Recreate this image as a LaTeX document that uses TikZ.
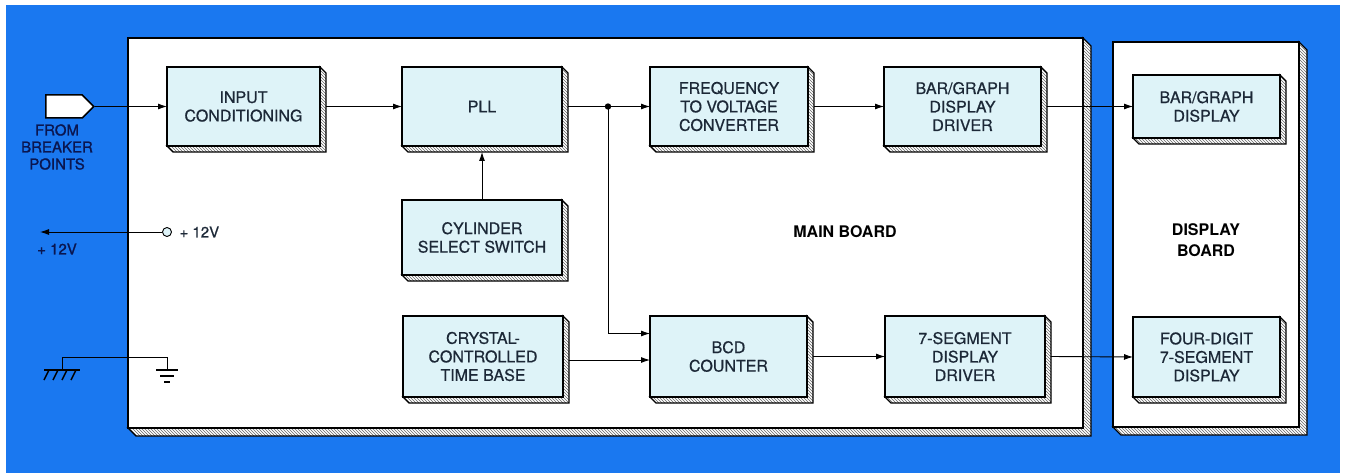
\documentclass[tikz,border=0pt]{standalone}
\usepackage{fontspec}
\setmainfont{TeX Gyre Heros}
\newfontfamily\boxfont[FakeBold=0.6]{TeX Gyre Heros}
\newfontfamily\bluefont[FakeBold=1.2]{TeX Gyre Heros}
\usetikzlibrary{arrows.meta,patterns,shapes.symbols,calc}
\definecolor{bgblue}{RGB}{26,120,240}
\definecolor{boxfill}{RGB}{222,243,248}
\definecolor{boxtext}{RGB}{28,40,55}
\definecolor{navy}{RGB}{10,22,80}
\tikzset{
 board/.style={draw=black, line width=2pt, fill=white, inner sep=0pt, outer sep=0pt},
 extr/.style={draw=black, line width=1.2pt, preaction={fill=white}, pattern=north west lines, pattern color=black!60},
 block/.style={draw=black, line width=2pt, fill=boxfill, inner sep=0pt, outer sep=0pt, align=center, text=boxtext, font=\boxfont\fontsize{16}{18.5}\selectfont},
 arr/.style={line width=0.9pt, -{Latex[length=9pt,width=6pt]}},
 wire/.style={line width=0.9pt},
 bold lbl/.style={font=\fontsize{16}{21}\selectfont\bfseries, align=center, text=black},
 blue lbl/.style={font=\bluefont\fontsize{15}{17}\selectfont, align=center, text=navy},
 plain lbl/.style={font=\boxfont\fontsize{15}{17}\selectfont, text=boxtext},
}
\newcommand{\slab}[5]{%
  \filldraw[extr] (#3,#2) -- (#3+#5,#2+#5) -- (#3+#5,#4+#5) -- (#1+#5,#4+#5) -- (#1,#4) -- (#3,#4) -- cycle;}
\newcommand{\blk}[6]{%
  \slab{#2}{#3}{#4}{#5}{6}
  \node[block, minimum width={#4-#2}, minimum height={#5-#3}] (#1) at ({(#2+#4)/2},{(#3+#5)/2}) {#6};}
\begin{document}
\begin{tikzpicture}[x=1pt,y=-1pt]
\useasboundingbox (0,0) rectangle (1345,476);
\fill[white] (0,0) rectangle (1345,476);
\fill[bgblue] (6,5) rectangle (1340,473);

% boards
\slab{128}{38}{1083}{428}{8}
\node[board, minimum width=955, minimum height=390] (main) at (605.5,233) {};
\slab{1113}{42}{1299}{427}{8}
\node[board, minimum width=186, minimum height=385] (disp) at (1206,234.5) {};
\node[bold lbl] (mainlbl) at (845,232) {MAIN BOARD};
\node[bold lbl] (displbl) at (1206,240) {DISPLAY\\BOARD};

% blocks
\blk{ic}{167}{67}{320}{146}{INPUT\\CONDITIONING}
\blk{pll}{402}{67}{562}{146}{PLL}
\blk{freq}{650}{67}{808}{146}{FREQUENCY\\TO VOLTAGE\\CONVERTER}
\blk{bdrv}{884}{67}{1041}{146}{BAR/GRAPH\\DISPLAY\\DRIVER}
\blk{cyl}{402}{200}{562}{275}{CYLINDER\\SELECT SWITCH}
\blk{xtal}{403}{316}{563}{397}{CRYSTAL-\\CONTROLLED\\TIME BASE}
\blk{bcd}{650}{316}{807}{397}{BCD\\COUNTER}
\blk{sdrv}{885}{316}{1045}{397}{7-SEGMENT\\DISPLAY\\DRIVER}
\blk{bdisp}{1133}{75}{1280}{138}{BAR/GRAPH\\DISPLAY}
\blk{fdisp}{1133}{317}{1280}{397}{FOUR-DIGIT\\7-SEGMENT\\DISPLAY}

% input connector
\node[signal, signal to=east, draw=black, line width=1.5pt, fill=white, minimum width=48pt, minimum height=23pt, inner sep=0pt] (inp) at (64,106.5) {};
\node[blue lbl] (inplbl) at (57,147) {FROM\\BREAKER\\POINTS};

% signal connectors
\draw[arr] (inp.east) -- (ic.west);
\draw[arr] ([xshift=6pt]ic.east) -- (pll.west);
\coordinate (J) at (608,106.5);
\draw[wire] ([xshift=6pt]pll.east) -- (J);
\fill (J) circle (3.2pt);
\draw[arr] (J) -- (freq.west);
\draw[arr] (J) |- ([yshift=23pt]bcd.west);
\draw[arr] ([xshift=6pt]freq.east) -- (bdrv.west);
\draw[arr] ([xshift=6pt]bdrv.east) -- (bdisp.west);
\draw[arr] (cyl.north) -- ([yshift=-6pt]pll.south);
\draw[arr] ([xshift=6pt,yshift=-3.5pt]xtal.east) -- ([yshift=-3.5pt]bcd.west);
\draw[arr] ([xshift=6pt]bcd.east) -- (sdrv.west);
\draw[arr] ([xshift=6pt]sdrv.east) -- (fdisp.west);

% +12V
\node[circle, draw=black, line width=0.9pt, fill=boxfill, minimum size=9pt, inner sep=0pt] (vcc) at (167,232) {};
\coordinate (vout) at (40,232);
\draw[arr] (vcc.west) -- (vout);
\node[plain lbl, anchor=west] (vcclbl) at (176,232) {+ 12V};
\node[blue lbl] (voutlbl) at (57,249) {+ 12V};

% ground
\coordinate (cg) at (62,370);
\coordinate (eg) at (167,370);
\draw[wire] (cg) -- (62,357) -- (167,357) -- (eg);
\draw[line width=1.6pt] (44,370) -- (80,370);
\foreach \gx in {49,58,67,76} \draw[line width=1.4pt] (\gx,370) -- (\gx-5,380);
\draw[line width=1.8pt] (156,370) -- (178,370);
\draw[line width=1.8pt] (160,376) -- (174,376);
\draw[line width=1.8pt] (164,382) -- (170,382);
\end{tikzpicture}
\end{document}
